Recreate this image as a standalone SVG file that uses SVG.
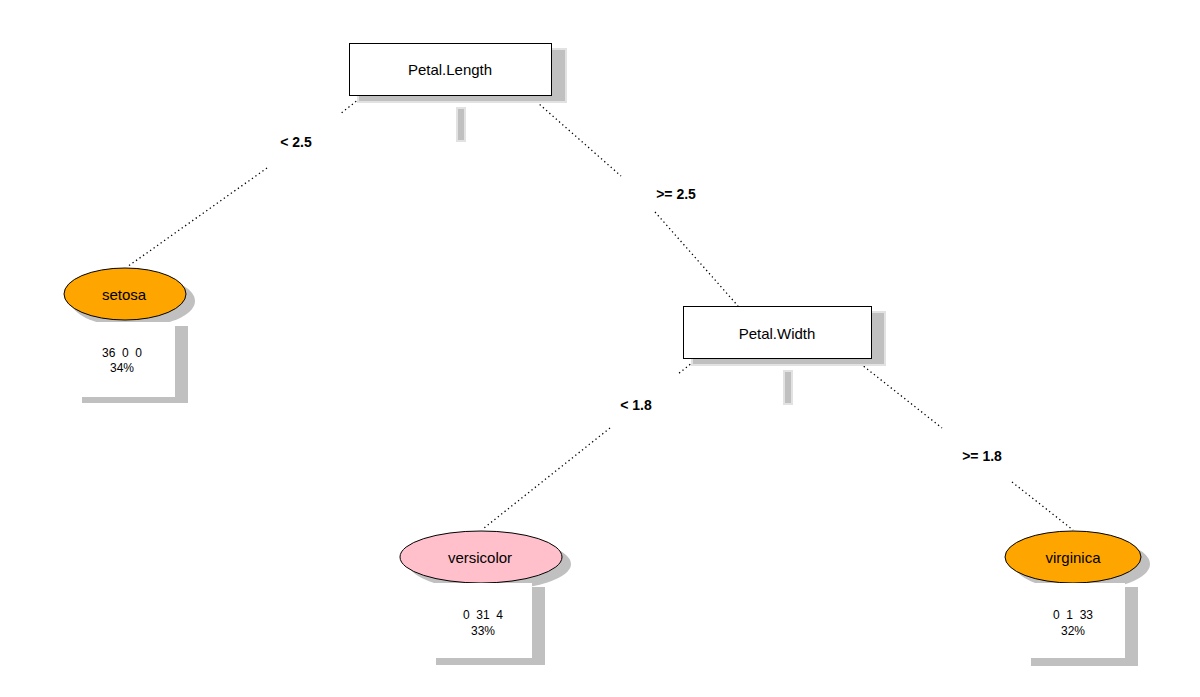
<svg xmlns="http://www.w3.org/2000/svg" width="1200" height="697" viewBox="0 0 1200 697">
<style>
text{font-family:"Liberation Sans",Arial,sans-serif;fill:#000}
.nt{font-size:15px}
.lab{font-size:14px;font-weight:bold}
.info{font-size:12px}
.sh{fill:#c0c0c0;stroke:#e2e2e2;stroke-width:2}
.box{fill:#fff;stroke:#000;stroke-width:1}
.edge{stroke:#000;stroke-width:1.3;stroke-dasharray:1.3 3;fill:none}
.bar{fill:#c0c0c0;stroke:#e2e2e2;stroke-width:2}
</style>
<rect width="1200" height="697" fill="#fff"/>
<g id="connectors">
<path class="edge" d="M363,96 L340,114 M267,168 L127,267"/>
<path class="edge" d="M530,96 L621,176 M655,212 L738,306"/>
<path class="edge" d="M697,359 L678,374 M610,428 L484,528"/>
<path class="edge" d="M857,361 L942,428 M1012,482 L1073,530"/>
<text class="lab" x="296" y="147" text-anchor="middle">&lt; 2.5</text>
<text class="lab" x="676" y="199" text-anchor="middle">&gt;= 2.5</text>
<text class="lab" x="636" y="410" text-anchor="middle">&lt; 1.8</text>
<text class="lab" x="982" y="461" text-anchor="middle">&gt;= 1.8</text>
</g>
<g id="petal-length">
<rect class="sh" x="358" y="49" width="208" height="53"/>
<rect class="box" x="349.5" y="43.5" width="202" height="52"/>
<rect class="bar" x="457" y="108" width="8" height="33"/>
<text class="nt" x="450" y="75" text-anchor="middle">Petal.Length</text>
</g>
<g id="petal-width">
<rect class="sh" x="692" y="312" width="193" height="53"/>
<rect class="box" x="683.5" y="306.5" width="188" height="52"/>
<rect class="bar" x="784" y="371" width="8" height="33"/>
<text class="nt" x="777" y="339" text-anchor="middle">Petal.Width</text>
</g>
<g id="setosa">
<ellipse cx="133" cy="301" rx="62" ry="26" fill="#c0c0c0"/>
<ellipse cx="125" cy="294" rx="61" ry="26" fill="#ffa500" stroke="#000" stroke-width="1"/>
<text class="nt" x="124" y="300" text-anchor="middle">setosa</text>
<rect x="82" y="326" width="106" height="77" fill="#c0c0c0"/>
<rect x="80" y="322" width="95" height="75" fill="#fff"/>
<text class="info" x="122" y="357" text-anchor="middle" xml:space="preserve">36  0  0</text>
<text class="info" x="122" y="372" text-anchor="middle">34%</text>
</g>
<g id="versicolor">
<ellipse cx="490" cy="564" rx="81" ry="26" fill="#c0c0c0"/>
<ellipse cx="481" cy="557" rx="81" ry="26" fill="#ffc0cb" stroke="#000" stroke-width="1"/>
<text class="nt" x="480" y="563" text-anchor="middle">versicolor</text>
<rect x="436" y="587" width="109" height="78" fill="#c0c0c0"/>
<rect x="430" y="583" width="102" height="75" fill="#fff"/>
<text class="info" x="483" y="619" text-anchor="middle" xml:space="preserve">0  31  4</text>
<text class="info" x="483" y="635" text-anchor="middle">33%</text>
</g>
<g id="virginica">
<ellipse cx="1082" cy="564" rx="68" ry="26" fill="#c0c0c0"/>
<ellipse cx="1073" cy="557" rx="68" ry="26" fill="#ffa500" stroke="#000" stroke-width="1"/>
<text class="nt" x="1073" y="563" text-anchor="middle">virginica</text>
<rect x="1031" y="587" width="107" height="79" fill="#c0c0c0"/>
<rect x="1028" y="583" width="97" height="75" fill="#fff"/>
<text class="info" x="1073" y="619" text-anchor="middle" xml:space="preserve">0  1  33</text>
<text class="info" x="1073" y="635" text-anchor="middle">32%</text>
</g>
</svg>
